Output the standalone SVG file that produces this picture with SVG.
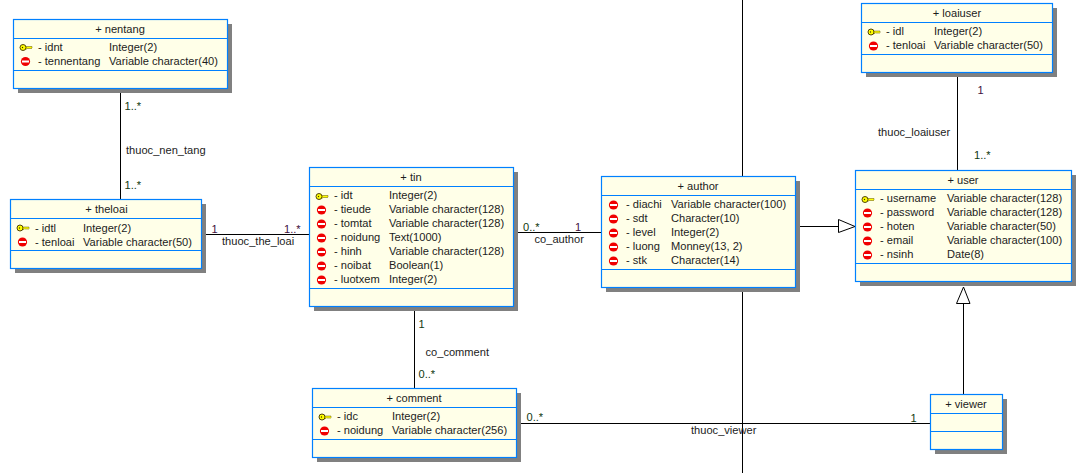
<svg xmlns="http://www.w3.org/2000/svg" width="1083" height="473" viewBox="0 0 1083 473">
<style>
text{font-family:"Liberation Sans",Arial,sans-serif;font-size:11.1px;fill:#1c1c1c}
.t{text-anchor:middle}
.b{fill:#ffffe8;stroke:#0080ff;stroke-width:1.2}
.s{fill:#808080}
.d{stroke:#0080ff;stroke-width:1.2;fill:none}
.c{stroke:#000;stroke-width:1;fill:none}
.h{fill:#fff;stroke:#000;stroke-width:1}
.m1{fill:#103810}
.m2{fill:#401040}
</style>
<defs>
<g id="key"><path d="M5 -1H12V0.500L11 1.500L10 0.500L9 1.500L8 0.500L7 1.500L5 1.500Z" fill="#ffff00" stroke="#605000" stroke-width="0.500"/><ellipse cx="3" cy="0" rx="3" ry="3" fill="#ffff00" stroke="#403000" stroke-width="0.900"/><circle cx="2.500" cy="0" r="0.700" fill="#403000"/></g>
<g id="no"><circle cx="4.500" cy="0" r="4.600" fill="#f00000"/><rect x="1" y="-1" width="7" height="2" fill="#fff"/></g>
</defs>
<g id="connectors">
<path class="c" d="M742.500 0V176M742.500 292V473"/>
<path class="c" d="M120.500 93V199"/>
<path class="c" d="M206 234.500H309"/>
<path class="c" d="M518 232.500H601"/>
<path class="c" d="M414.500 311V388"/>
<path class="c" d="M521 423.500H930"/>
<path class="c" d="M957.500 77V170"/>
<path class="c" d="M800 226.500H838.500"/>
<polygon class="h" points="838.500,219.500 855,226.500 838.500,232.500"/>
<path class="c" d="M963.500 303V394"/>
<polygon class="h" points="963.500,287 956.500,303.500 970,303.500"/>
<text x="124.500" y="110" class="m1">1..*</text><text x="126" y="154">thuoc_nen_tang</text><text x="124.500" y="189" class="m1">1..*</text>
<text x="211.500" y="233" class="m2">1</text><text x="284" y="233" class="m2">1..*</text><text x="222" y="245">thuoc_the_loai</text>
<text x="523" y="231" class="m1">0..*</text><text x="575" y="231" class="m2">1</text><text x="534.500" y="243">co_author</text>
<text x="418.500" y="328" class="m1">1</text><text x="425.500" y="356">co_comment</text><text x="418.500" y="378" class="m1">0..*</text>
<text x="526.500" y="421" class="m1">0..*</text><text x="910.500" y="422" class="m1">1</text><text x="691" y="434">thuoc_viewer</text>
<text x="977.500" y="94" class="m2">1</text><text x="878" y="136">thuoc_loaiuser</text><text x="974" y="159" class="m1">1..*</text>
</g>
<g id="nentang"><rect class="s" x="18" y="24" width="214" height="69"/><rect class="b" x="13.500" y="19.500" width="214" height="69"/><path class="d" d="M13 38.500H228M13 70.500H228"/>
<text class="t" x="120" y="33">+ nentang</text>
<use href="#key" x="20" y="47.500"/><text x="38" y="51">- idnt</text><text x="109" y="51">Integer(2)</text>
<use href="#no" x="21" y="61.500"/><text x="38" y="65">- tennentang</text><text x="109" y="65">Variable character(40)</text></g>
<g id="theloai"><rect class="s" x="15" y="204" width="191" height="69"/><rect class="b" x="10.500" y="199.500" width="191" height="69"/><path class="d" d="M10 218.500H202M10 250.500H202"/>
<text class="t" x="106.500" y="213">+ theloai</text>
<use href="#key" x="17" y="228"/><text x="35" y="232">- idtl</text><text x="83" y="232">Integer(2)</text>
<use href="#no" x="18" y="242"/><text x="35" y="246">- tenloai</text><text x="83" y="246">Variable character(50)</text></g>
<g id="tin"><rect class="s" x="314" y="172" width="204" height="139"/><rect class="b" x="309.500" y="167.500" width="204" height="139"/><path class="d" d="M309 186.500H514M309 288.500H514"/>
<text class="t" x="411" y="181">+ tin</text>
<use href="#key" x="316" y="196.500"/><text x="334" y="199">- idt</text><text x="389" y="199">Integer(2)</text>
<use href="#no" x="317" y="210"/><text x="334" y="213">- tieude</text><text x="389" y="213">Variable character(128)</text>
<use href="#no" x="317" y="224"/><text x="334" y="227">- tomtat</text><text x="389" y="227">Variable character(128)</text>
<use href="#no" x="317" y="238"/><text x="334" y="241">- noidung</text><text x="389" y="241">Text(1000)</text>
<use href="#no" x="317" y="252"/><text x="334" y="255">- hinh</text><text x="389" y="255">Variable character(128)</text>
<use href="#no" x="317" y="266"/><text x="334" y="269">- noibat</text><text x="389" y="269">Boolean(1)</text>
<use href="#no" x="317" y="280"/><text x="334" y="283">- luotxem</text><text x="389" y="283">Integer(2)</text></g>
<g id="author"><rect class="s" x="606" y="181" width="194" height="111"/><rect class="b" x="601.500" y="176.500" width="194" height="111"/><path class="d" d="M601 195.500H796M601 269.500H796"/>
<text class="t" x="698" y="190">+ author</text>
<use href="#no" x="609" y="205"/><text x="626" y="208">- diachi</text><text x="671" y="208">Variable character(100)</text>
<use href="#no" x="609" y="219"/><text x="626" y="222">- sdt</text><text x="671" y="222">Character(10)</text>
<use href="#no" x="609" y="233"/><text x="626" y="236">- level</text><text x="671" y="236">Integer(2)</text>
<use href="#no" x="609" y="247"/><text x="626" y="250">- luong</text><text x="671" y="250">Monney(13, 2)</text>
<use href="#no" x="609" y="261"/><text x="626" y="264">- stk</text><text x="671" y="264">Character(14)</text></g>
<g id="user"><rect class="s" x="860" y="175" width="216" height="111"/><rect class="b" x="855.500" y="170.500" width="216" height="111"/><path class="d" d="M855 189.500H1072M855 263.500H1072"/>
<text class="t" x="963" y="184">+ user</text>
<use href="#key" x="862" y="199.500"/><text x="880" y="202">- username</text><text x="947" y="202">Variable character(128)</text>
<use href="#no" x="863" y="213"/><text x="880" y="216">- password</text><text x="947" y="216">Variable character(128)</text>
<use href="#no" x="863" y="227"/><text x="880" y="230">- hoten</text><text x="947" y="230">Variable character(50)</text>
<use href="#no" x="863" y="241"/><text x="880" y="244">- email</text><text x="947" y="244">Variable character(100)</text>
<use href="#no" x="863" y="255"/><text x="880" y="258">- nsinh</text><text x="947" y="258">Date(8)</text></g>
<g id="loaiuser"><rect class="s" x="866" y="8" width="191" height="69"/><rect class="b" x="861.500" y="3.500" width="191" height="69"/><path class="d" d="M861 22.500H1053M861 54.500H1053"/>
<text class="t" x="957" y="17">+ loaiuser</text>
<use href="#key" x="868" y="32"/><text x="886" y="35">- idl</text><text x="934" y="35">Integer(2)</text>
<use href="#no" x="869" y="46"/><text x="886" y="49">- tenloai</text><text x="934" y="49">Variable character(50)</text></g>
<g id="comment"><rect class="s" x="317" y="393" width="204" height="69"/><rect class="b" x="312.500" y="388.500" width="204" height="69"/><path class="d" d="M312 407.500H517M312 439.500H517"/>
<text class="t" x="414" y="402">+ comment</text>
<use href="#key" x="319" y="417"/><text x="337" y="420">- idc</text><text x="392" y="420">Integer(2)</text>
<use href="#no" x="320" y="431"/><text x="337" y="434">- noidung</text><text x="392" y="434">Variable character(256)</text></g>
<g id="viewer"><rect class="s" x="935" y="399" width="72" height="55"/><rect class="b" x="930.500" y="394.500" width="72" height="55"/><path class="d" d="M930 413.500H1003M930 431.500H1003"/>
<text class="t" x="966" y="408">+ viewer</text></g>
</svg>
